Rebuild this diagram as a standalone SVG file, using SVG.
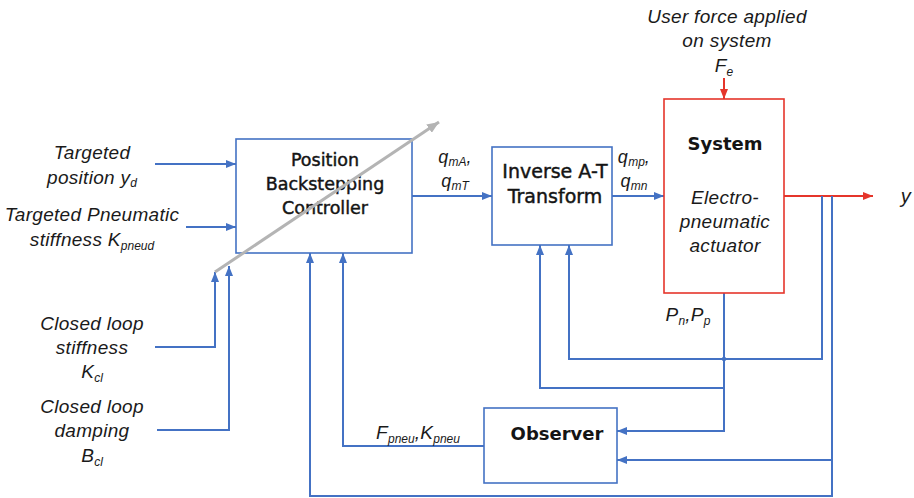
<svg xmlns="http://www.w3.org/2000/svg" width="914" height="498" viewBox="0 0 914 498">
  <defs>
    <marker id="arrBlue" viewBox="0 0 10 8" refX="10" refY="4" markerWidth="10" markerHeight="8" markerUnits="userSpaceOnUse" orient="auto">
      <path d="M0,0 L10,4 L0,8 Z" fill="#4472c4"/>
    </marker>
    <marker id="arrRed" viewBox="0 0 10 8" refX="10" refY="4" markerWidth="10" markerHeight="8" markerUnits="userSpaceOnUse" orient="auto">
      <path d="M0,0 L10,4 L0,8 Z" fill="#e5352b"/>
    </marker>
    <marker id="arrGray" viewBox="0 0 12 10" refX="12" refY="5" markerWidth="12" markerHeight="10" markerUnits="userSpaceOnUse" orient="auto">
      <path d="M0,0 L12,5 L0,10 Z" fill="#b4b4b4"/>
    </marker>
  </defs>
  <style>
    .box { fill: #ffffff; stroke: #4472c4; stroke-width: 1.6; }
    .sys { fill: #ffffff; stroke: #e5352b; stroke-width: 1.6; }
    .wire { fill: none; stroke: #4472c4; stroke-width: 2; }
    .wireA { fill: none; stroke: #4472c4; stroke-width: 2; marker-end: url(#arrBlue); }
    .redA { fill: none; stroke: #e5352b; stroke-width: 2; marker-end: url(#arrRed); }
    .title { font-family: "DejaVu Sans", sans-serif; font-size: 17.5px; fill: #141414; stroke: #141414; stroke-width: 0.45; text-anchor: middle; }
    .bold { font-family: "DejaVu Sans", sans-serif; font-size: 18px; font-weight: bold; fill: #141414; text-anchor: middle; }
    .lbl { font-family: "Liberation Sans", Arial, sans-serif; font-size: 19px; font-style: italic; letter-spacing: 0.3px; fill: #1a1a1a; text-anchor: middle; }
    .sub { font-size: 12px; letter-spacing: 0; }
  </style>

  <!-- connectors -->
  <g id="connectors">
    <!-- reference inputs -->
    <path class="wireA" d="M155,164 H236"/>
    <path class="wireA" d="M186,227 H236"/>
    <!-- closed-loop gains -->
    <path class="wireA" d="M155,347 H215 V272"/>
    <path class="wireA" d="M157,430 H229 V266"/>
    <!-- controller to inverse transform -->
    <path class="wireA" d="M412,196 H492"/>
    <!-- inverse transform to system -->
    <path class="wireA" d="M612,196 H664"/>
    <!-- system output -->
    <path class="redA" d="M784,196 H873"/>
    <!-- external force -->
    <path class="redA" d="M724,78 V99"/>
    <!-- pressure measurements -->
    <path class="wireA" d="M724,293 V431 H617"/>
    <path class="wireA" d="M724,388 H540 V245"/>
    <!-- position feedback -->
    <path class="wireA" d="M822,196 V359 H569 V245"/>
    <circle cx="724" cy="359" r="2.2" fill="#4472c4"/>
    <path class="wireA" d="M832,196 V496 H310 V253"/>
    <path class="wireA" d="M832,460 H617"/>
    <!-- observer estimates -->
    <path class="wireA" d="M484,446 H343 V253"/>
  </g>

  <!-- controller -->
  <g id="controller">
    <rect class="box" x="236" y="139" width="176" height="114"/>
    <text class="title" x="325" y="166">Position</text>
    <text class="title" x="325" y="190">Backstepping</text>
    <text class="title" x="325" y="214">Controller</text>
  </g>

  <!-- adaptive gain arrow across the controller -->
  <path d="M215,272 L439,122" fill="none" stroke="#b4b4b4" stroke-width="3" marker-end="url(#arrGray)"/>

  <!-- inverse transform -->
  <g id="inverse">
    <rect class="box" x="492" y="147" width="120" height="98"/>
    <text class="title" x="555" y="178" style="font-size:19px">Inverse A-T</text>
    <text class="title" x="555" y="203" style="font-size:19px">Transform</text>
  </g>

  <!-- plant -->
  <g id="system">
    <rect class="sys" x="664" y="99" width="120" height="194"/>
    <text class="bold" x="725" y="150">System</text>
    <text class="lbl" x="725" y="204">Electro-</text>
    <text class="lbl" x="725" y="228">pneumatic</text>
    <text class="lbl" x="725" y="252">actuator</text>
  </g>

  <!-- observer -->
  <g id="observer">
    <rect class="box" x="484" y="408" width="133" height="75"/>
    <text class="bold" x="557" y="440">Observer</text>
  </g>

  <!-- signal labels -->
  <g id="labels">
    <text class="lbl" x="92" y="159">Targeted</text>
    <text class="lbl" x="92" y="184">position y<tspan class="sub" dy="3">d</tspan></text>
    <text class="lbl" x="92" y="221">Targeted Pneumatic</text>
    <text class="lbl" x="92" y="246">stiffness K<tspan class="sub" dy="4">pneud</tspan></text>
    <text class="lbl" x="92" y="330">Closed loop</text>
    <text class="lbl" x="92" y="354">stiffness</text>
    <text class="lbl" x="92" y="378">K<tspan class="sub" dy="4">cl</tspan></text>
    <text class="lbl" x="92" y="413">Closed loop</text>
    <text class="lbl" x="92" y="437">damping</text>
    <text class="lbl" x="92" y="462">B<tspan class="sub" dy="4">cl</tspan></text>
    <text class="lbl" x="727" y="23">User force applied</text>
    <text class="lbl" x="727" y="47">on system</text>
    <text class="lbl" x="724" y="72">F<tspan class="sub" dy="4">e</tspan></text>
    <text class="lbl" x="455" y="163" style="font-size:18px">q<tspan class="sub" dy="3">mA</tspan><tspan dy="-3">,</tspan></text>
    <text class="lbl" x="455" y="187" style="font-size:18px">q<tspan class="sub" dy="3">mT</tspan></text>
    <text class="lbl" x="634" y="163" style="font-size:18px">q<tspan class="sub" dy="3">mp</tspan><tspan dy="-3">,</tspan></text>
    <text class="lbl" x="634" y="187" style="font-size:18px">q<tspan class="sub" dy="3">mn</tspan></text>
    <text class="lbl" x="688" y="321">P<tspan class="sub" dy="4">n</tspan><tspan dy="-4">,P</tspan><tspan class="sub" dy="4">p</tspan></text>
    <text class="lbl" x="418" y="439">F<tspan class="sub" dy="4">pneu</tspan><tspan dy="-4">,K</tspan><tspan class="sub" dy="4">pneu</tspan></text>
    <text class="lbl" x="906" y="203" style="font-size:20px">y</text>
  </g>
</svg>
